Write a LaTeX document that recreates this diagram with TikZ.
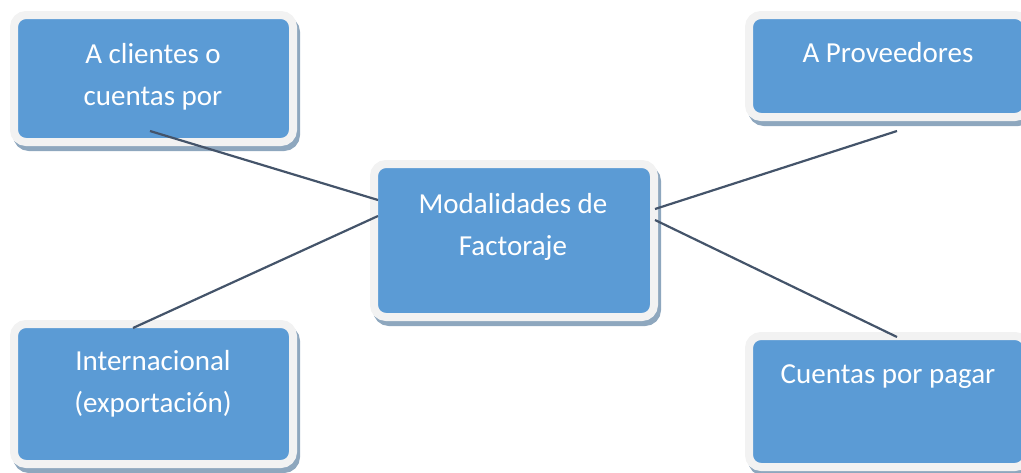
\documentclass[tikz,border=0pt]{standalone}
\usepackage{fontspec}
\setmainfont{Carlito}
\definecolor{boxblue}{HTML}{5B9BD5}
\definecolor{boxrim}{HTML}{F2F2F2}
\definecolor{boxshadow}{HTML}{8EA7BE}
\definecolor{linkc}{HTML}{44546A}
\begin{document}
\begin{tikzpicture}[x=1pt,y=-1pt,
  box/.style={rectangle, rounded corners=12pt, fill=boxblue, draw=boxrim, line width=8pt,
    preaction={draw=boxshadow, fill=boxshadow, line width=8pt, transform canvas={shift={(3pt,-5pt)}}}},
  lbl/.style={text=white, font=\fontsize{29}{42}\selectfont, align=center, anchor=base, inner sep=0pt},
  link/.style={draw=linkc, line width=2.2pt}]
\useasboundingbox (0,0) rectangle (1021,472);
\begin{scope}
\clip (0,0) rectangle (1021,472);
\node[box, minimum width=279pt, minimum height=127pt] (b1) at (153.5,78.5) {};
\node[box, minimum width=280pt, minimum height=153pt] (b2) at (514,240.5) {};
\node[box, minimum width=278pt, minimum height=102pt] (b3) at (888,66) {};
\node[box, minimum width=279pt, minimum height=140pt] (b4) at (153.5,394) {};
\node[box, minimum width=278pt, minimum height=131pt] (b5) at (888,401.5) {};
\end{scope}
\node[lbl] (t1) at (153,105) {A clientes o\\cuentas por};
\node[lbl] (t2) at (513,255) {Modalidades de\\Factoraje};
\node[lbl] (t3) at (888,62) {A Proveedores};
\node[lbl] (t4) at (153,412) {Internacional\\(exportación)};
\node[lbl] (t5) at (888,383) {Cuentas por pagar};
\coordinate (c1) at (150,131);
\coordinate (c2l) at (378,200);
\coordinate (c4) at (133,328);
\coordinate (c2m) at (378,216);
\coordinate (c3) at (897,131);
\coordinate (c2r) at (655,209);
\coordinate (c2s) at (655,220);
\coordinate (c5) at (897,337);
\draw[link] (c1) -- (c2l);
\draw[link] (c4) -- (c2m);
\draw[link] (c3) -- (c2r);
\draw[link] (c2s) -- (c5);
\end{tikzpicture}
\end{document}
